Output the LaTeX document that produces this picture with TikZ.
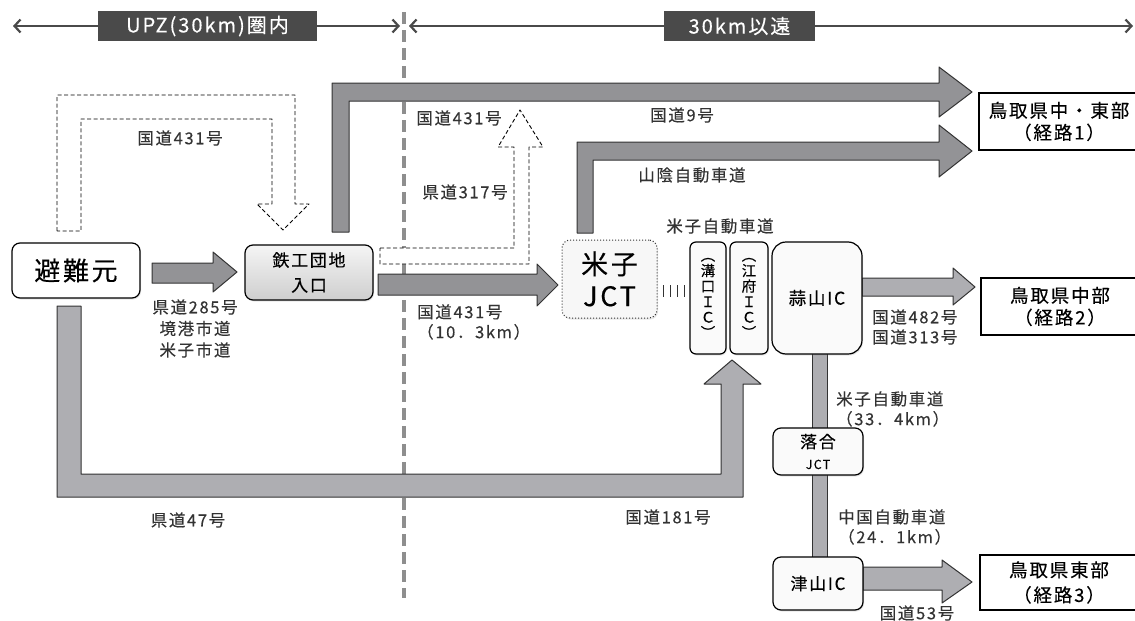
\documentclass[tikz,border=0pt]{standalone}
\usepackage{fontspec}
\setmainfont{Noto Sans CJK JP}[LetterSpace=10, FakeBold=0.25]
\usetikzlibrary{arrows.meta,shadows}
\definecolor{hdr}{HTML}{4A4A4A}
\definecolor{darkarrow}{HTML}{939396}
\definecolor{lightarrow}{HTML}{AEAEB2}
\definecolor{lbl}{HTML}{333333}
\definecolor{edge}{HTML}{333333}
\definecolor{divgray}{HTML}{8E8E8E}
\tikzset{
  blk/.style={draw=edge, line width=1pt, line join=round},
  darkblk/.style={blk, fill=darkarrow},
  lightblk/.style={blk, fill=lightarrow},
  dashblk/.style={draw=black, line width=0.9pt, dash pattern=on 4pt off 2.5pt, fill=white, line join=round},
  rbox/.style={draw=black, line width=1.2pt, rounded corners=8pt, fill=#1, align=center, inner sep=0pt,
    drop shadow={opacity=0.2, shadow xshift=1pt, shadow yshift=-1.5pt}},
  dest/.style={draw=black, line width=2.5pt, fill=white, align=center, inner sep=0pt},
  lab/.style={text=lbl, font=\fontsize{16.5}{21.5}\selectfont, align=center, inner sep=0pt},
  hdrbox/.style={fill=hdr, text=white, inner sep=0pt},
  hdrline/.style={draw=hdr, line width=2.2pt, {Straight Barb[length=6pt,width=13pt]}-{Straight Barb[length=6pt,width=13pt]}},
  divider/.style={draw=divgray, line width=3.5pt, dash pattern=on 12pt off 6pt},
  tick/.style={draw=edge, line width=0.9pt},
}
\begin{document}
\begin{tikzpicture}[x=1pt,y=-1pt]
\useasboundingbox (0,0) rectangle (1135,621);
% divider
\coordinate (dv1) at (404,12); \coordinate (dv2) at (404,598);
\draw[divider] (dv1) -- (dv2);
% header
\coordinate (hl1) at (13,26); \coordinate (hl2) at (400,26);
\coordinate (hr1) at (409,26); \coordinate (hr2) at (1133,26);
\draw[hdrline] (hl1) -- (hl2);
\draw[hdrline] (hr1) -- (hr2);
\node[hdrbox, minimum width=219, minimum height=30, font=\fontsize{20}{20}\selectfont] (upz) at (207.5,26) {UPZ(30km)圏内};
\node[hdrbox, minimum width=151, minimum height=30, font=\fontsize{20}{20}\selectfont] (far) at (739.5,26) {30km以遠};

% big block arrows
\filldraw[darkblk] (332,232) -- (332,83) -- (939,83) -- (939,67) -- (972,92) -- (939,117) -- (939,101) -- (349,101) -- (349,232) -- cycle;
\filldraw[darkblk] (577,233) -- (577,142) -- (939,142) -- (939,125) -- (972,151) -- (939,177) -- (939,160) -- (593,160) -- (593,233) -- cycle;
\filldraw[lightblk] (57,306) -- (57,497) -- (743,497) -- (743,384) -- (761,384) -- (732,360) -- (704,384) -- (721,384) -- (721,474) -- (81,474) -- (81,306) -- cycle;
\filldraw[darkblk] (152,263) -- (213,263) -- (213,252) -- (237,272) -- (213,292) -- (213,283) -- (152,283) -- cycle;
\filldraw[darkblk] (378,274) -- (537,274) -- (537,264) -- (558,285) -- (537,306) -- (537,295) -- (378,295) -- cycle;
\filldraw[lightblk] (862,278) -- (953,278) -- (953,268) -- (975,287) -- (953,305) -- (953,296) -- (862,296) -- cycle;
\filldraw[lightblk] (812,350) rectangle (827,560);
\filldraw[lightblk] (863,567) -- (942,567) -- (942,560) -- (972,582) -- (942,603) -- (942,590) -- (863,590) -- cycle;

% dashed arrows
\filldraw[dashblk] (57,231) -- (57,95) -- (295,95) -- (295,204) -- (309,204) -- (283,230) -- (257,204) -- (272,204) -- (272,119) -- (81,119) -- (81,231) -- cycle;
\filldraw[dashblk] (380,248) -- (514,248) -- (514,147) -- (498,147) -- (520,110) -- (543,147) -- (529,147) -- (529,264) -- (380,264) -- cycle;

% nodes
\node[rbox=white, minimum width=128, minimum height=55, font=\fontsize{26}{26}\selectfont] (src) at (76,270.5) {避難元};
\node[rbox=white, top color=gray!8, bottom color=gray!38, minimum width=128, minimum height=55, font=\fontsize{17}{25}\selectfont] (tekko) at (309,272.5) {鉄工団地\\入口};
\node[rbox=gray!6, draw=edge, line width=1pt, dotted, minimum width=95, minimum height=78, font=\fontsize{27}{32}\selectfont] (yjct) at (609.5,279) {米子\\JCT};
\node[rbox=gray!4, rounded corners=6pt, minimum width=36, minimum height=112, font=\fontsize{14.5}{15.5}\selectfont] (mizo) at (708,298) {︵\\溝\\口\\Ｉ\\Ｃ\\︶};
\node[rbox=gray!4, rounded corners=6pt, minimum width=38, minimum height=112, font=\fontsize{14.5}{15.5}\selectfont] (kofu) at (749,298) {︵\\江\\府\\Ｉ\\Ｃ\\︶};
\node[rbox=gray!4, rounded corners=14pt, minimum width=90, minimum height=112, font=\fontsize{17.5}{20}\selectfont] (hiru) at (817,298) {蒜山IC};
\node[rbox=gray!4, minimum width=90, minimum height=47, font=\fontsize{17}{21}\selectfont] (ochi) at (818,451.5) {落合\\{\fontsize{12.5}{14}\selectfont JCT}};
\node[rbox=gray!4, minimum width=90, minimum height=53, font=\fontsize{17}{20}\selectfont] (tsu) at (818,583.5) {津山IC};

\node[dest, minimum width=160, minimum height=57, font=\fontsize{18.5}{22}\selectfont] (d1) at (1059,121.5) {鳥取県中・東部\\（経路1）};
\node[dest, minimum width=158, minimum height=57, font=\fontsize{18.5}{22}\selectfont] (d2) at (1060,306.5) {鳥取県中部\\（経路2）};
\node[dest, minimum width=158, minimum height=55, font=\fontsize{18.5}{25}\selectfont] (d3) at (1059,582.5) {鳥取県東部\\（経路3）};

% ticks between JCT and IC
\foreach \xx in {663,670,677,684} \draw[tick] (\xx,285) -- (\xx,297);

% labels
\node[lab] (l1) at (180,138) {国道431号};
\node[lab] (l2) at (195,328.5) {県道285号\\境港市道\\米子市道};
\node[lab] (l3) at (459,118) {国道431号};
\node[lab] (l4) at (682,115) {国道9号};
\node[lab] (l5) at (465,192) {県道317号};
\node[lab] (l6) at (692,175) {山陰自動車道};
\node[lab] (l7) at (720,226) {米子自動車道};
\node[lab, anchor=west, align=left, font=\fontsize{16.5}{20}\selectfont] (l8) at (417,322) {国道431号\\（10．3km）};
\node[lab, anchor=west, align=left, font=\fontsize{16.5}{20}\selectfont] (l9) at (872,327) {国道482号\\国道313号};
\node[lab, anchor=west, align=left, font=\fontsize{16.5}{20}\selectfont] (l10) at (836,409) {米子自動車道\\（33．4km）};
\node[lab, anchor=west, align=left, font=\fontsize{16.5}{20}\selectfont] (l11) at (838,527) {中国自動車道\\（24．1km）};
\node[lab] (l12) at (917,613) {国道53号};
\node[lab] (l13) at (188,520) {県道47号};
\node[lab] (l14) at (668,517) {国道181号};
\end{tikzpicture}
\end{document}
